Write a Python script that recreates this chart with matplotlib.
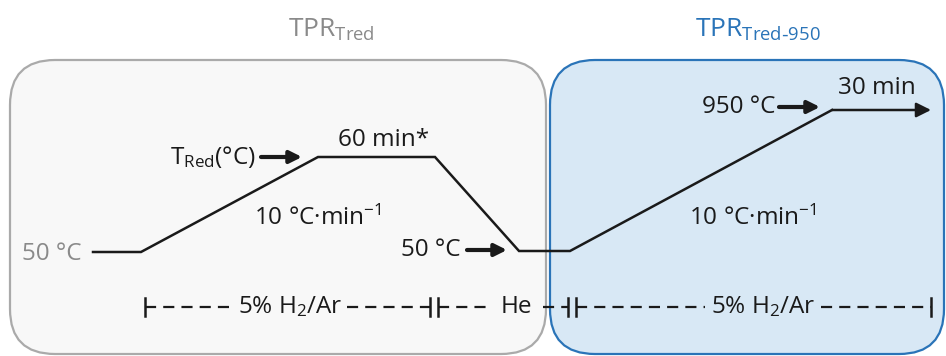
import matplotlib
matplotlib.use("Agg")
import matplotlib.pyplot as plt
from matplotlib.patches import FancyBboxPatch

plt.rcParams['font.family'] = ['Open Sans', 'DejaVu Sans']
plt.rcParams['mathtext.default'] = 'regular'

# Temperature programme (schematic, pixel-like coordinates, y downwards)
profile_x = [93, 141, 318, 435, 519, 570, 832]
profile_y = [252, 252, 157, 157, 251, 251, 110]
final_hold_end = 931

# Stage boxes
box_titles = [r'TPR$_{Tred}$', r'TPR$_{Tred\text{-}950}$']
box_x = [(10, 546), (550, 944)]
box_fill = ['#f8f8f8', '#d8e8f5']
box_edge = ['#aaaaaa', '#2a74b8']
title_color = ['#8a8a8a', '#2a74b8']
title_x = [331, 758]

# Gas segments: (start, end, label, label_left, label_right)
gas_segments = [(145, 430, '5% H$_2$/Ar', 236, 344),
                (438, 568, 'He', 492, 540),
                (576, 931, '5% H$_2$/Ar', 708, 818)]
gas_y = 307

W, H = 946, 356
fig = plt.figure(figsize=(W / 100, H / 100), dpi=100)
ax = fig.add_axes([0, 0, 1, 1])
ax.set_xlim(0, W)
ax.set_ylim(H, 0)
ax.axis('off')

for (x0, x1), fc, ec in zip(box_x, box_fill, box_edge):
    ax.add_patch(FancyBboxPatch((x0, 60), x1 - x0, 294,
                                boxstyle="round,pad=0,rounding_size=45",
                                fc=fc, ec=ec, lw=1.6, zorder=1))
for t, c, x in zip(box_titles, title_color, title_x):
    ax.text(x, 37, t, color=c, fontsize=19, ha='center', va='baseline')

# profile
ax.plot(profile_x, profile_y, color='#1a1a1a', lw=1.8, zorder=3,
        solid_joinstyle='miter')
ax.annotate('', xy=(final_hold_end, profile_y[-1]), xytext=(profile_x[-1], profile_y[-1]),
            arrowprops=dict(arrowstyle='-|>', lw=1.8, color='#1a1a1a',
                            mutation_scale=22, shrinkA=0, shrinkB=0), zorder=3)

def arrow(x0, x1, y):
    ax.annotate('', xy=(x1, y), xytext=(x0, y),
                arrowprops=dict(arrowstyle='-|>', lw=3, color='#1a1a1a',
                                mutation_scale=18, shrinkA=0, shrinkB=0), zorder=3)

fs = 17.5
txt = dict(color='#1a1a1a', fontsize=fs, zorder=4)
ax.text(82, 254, '50 °C', color='#8a8a8a', fontsize=fs, ha='right', va='center')
ax.text(256, 157, r'T$_{Red}$(°C)', ha='right', va='center', **txt)
arrow(261, 302, 157)
ax.text(384, 140, '60 min*', ha='center', va='center', **txt)
ax.text(318, 218, r'10 °C·min$^{-1}$', ha='center', va='center', **txt)
ax.text(461, 250, '50 °C', ha='right', va='center', **txt)
arrow(467, 507, 250)
ax.text(775, 107, '950 °C', ha='right', va='center', **txt)
arrow(779, 820, 107)
ax.text(877, 88, '30 min', ha='center', va='center', **txt)
ax.text(753, 218, r'10 °C·min$^{-1}$', ha='center', va='center', **txt)

for x0, x1, lab, l0, l1 in gas_segments:
    ax.plot([x0, x0], [gas_y - 9, gas_y + 9], color='#1a1a1a', lw=1.8)
    ax.plot([x1, x1], [gas_y - 9, gas_y + 9], color='#1a1a1a', lw=1.8)
    ax.plot([x0, l0 - 3], [gas_y, gas_y], color='#1a1a1a', lw=1.6, dashes=(5, 3.2))
    ax.plot([l1 + 3, x1], [gas_y, gas_y], color='#1a1a1a', lw=1.6, dashes=(5, 3.2))
    ax.text((l0 + l1) / 2, gas_y, lab, ha='center', va='center', **txt)

fig.savefig('out.png', dpi=100)
